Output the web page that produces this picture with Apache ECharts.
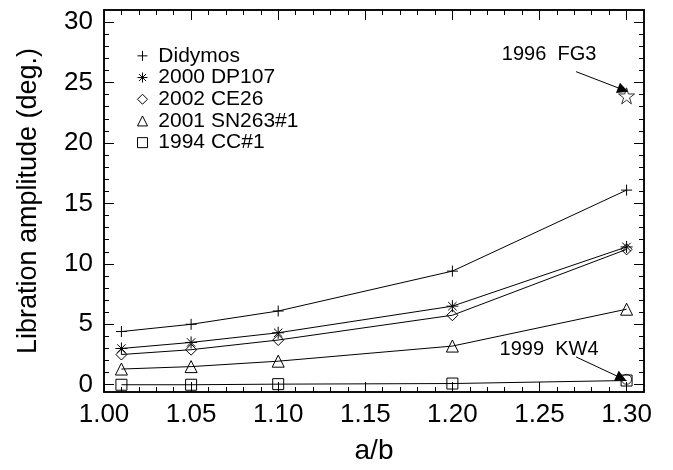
<!DOCTYPE html>
<html>
<head>
    <meta charset="utf-8">
    <title>Libration amplitude</title>
    <script src="https://cdn.jsdelivr.net/npm/echarts@6/dist/echarts.min.js"></script>
</head>
<body style="margin:0;background:#fff">
<div id="main" style="width:673px;height:470px;"></div>
<script type="text/javascript">
    // data
    var ratios = [1.01, 1.05, 1.10, 1.20, 1.30];
    var didymos = [4.4, 5.0, 6.1, 9.4, 16.1];
    var dp107 = [3.0, 3.5, 4.3, 6.5, 11.4];
    var ce26 = [2.5, 2.9, 3.7, 5.75, 11.2];
    var sn263 = [1.3, 1.5, 1.95, 3.2, 6.25];
    var cc1 = [0.0, 0.0, 0.05, 0.1, 0.35];
    var fg3 = [1.30, 23.9];
    var kw4 = [1.30, 0.45];

    // annotations (data units)
    var fg3Label = [1.2555, 27.3];
    var kw4Label = [1.2555, 2.95];
    var fg3Arrow = [[1.271, 25.9], [1.298, 24.4]];
    var kw4Arrow = [[1.271, 2.3], [1.297, 0.55]];

    // tick values
    var xMajor = [1.00, 1.05, 1.10, 1.15, 1.20, 1.25, 1.30];
    var xMinor = [];
    for (var i = 1; i <= 30; i++) xMinor.push(+(1 + i * 0.01).toFixed(2));
    var yMajor = [0, 5, 10, 15, 20, 25, 30];
    var yMinor = [];
    for (var j = 0; j <= 30; j++) yMinor.push(j);

    var FONT = 'Liberation Sans';
    var plusPath = 'path://M0,5L10,5M5,0L5,10';
    var starPath = 'path://M0,5L10,5M5,0L5,10M1.5,1.5L8.5,8.5M8.5,1.5L1.5,8.5';
    var star5 = 'path://M50,0L61,35L98,35L68,57L79,91L50,70L21,91L32,57L2,35L39,35Z';

    var myChart = echarts.init(document.getElementById('main'));

    function zip(ys) {
        return ys.map(function (v, k) { return [ratios[k], v]; });
    }

    var hollow = { color: 'none', borderColor: '#000', borderWidth: 1 };

    function seriesOf(name, ys, symbol, size) {
        return {
            name: name,
            type: 'line',
            data: zip(ys),
            symbol: symbol,
            symbolSize: size,
            showAllSymbol: true,
            lineStyle: { color: '#000', width: 1 },
            itemStyle: hollow,
            emphasis: { disabled: true },
            z: 3
        };
    }

    function xAx(pos, values, len, labels) {
        return {
            type: 'value', position: pos, min: 1.0, max: 1.31,
            axisLine: { show: true, onZero: false, lineStyle: { color: '#000', width: 1.5 } },
            axisTick: { show: true, inside: true, length: len, customValues: values, lineStyle: { color: '#000', width: 1 } },
            axisLabel: labels ? {
                show: true, customValues: xMajor, margin: 10,
                fontFamily: FONT, fontSize: 26, color: '#000',
                formatter: function (v) { return v.toFixed(2); }
            } : { show: false },
            splitLine: { show: false },
            name: labels ? 'a/b' : '',
            nameLocation: 'middle', nameGap: 45,
            nameTextStyle: { fontFamily: FONT, fontSize: 28, color: '#000' }
        };
    }

    function yAx(pos, values, len, labels) {
        return {
            type: 'value', position: pos, min: -0.6, max: 31,
            axisLine: { show: true, onZero: false, lineStyle: { color: '#000', width: 1.5 } },
            axisTick: { show: true, inside: true, length: len, customValues: values, lineStyle: { color: '#000', width: 1 } },
            axisLabel: labels ? {
                show: true, customValues: yMajor, margin: 11,
                fontFamily: FONT, fontSize: 26, color: '#000'
            } : { show: false },
            splitLine: { show: false },
            name: labels ? 'Libration amplitude (deg.)' : '',
            nameLocation: 'middle', nameGap: 62, nameRotate: 90,
            nameTextStyle: { fontFamily: FONT, fontSize: 27, color: '#000' }
        };
    }

    function arrow(seg) {
        return { coords: seg };
    }

    function note(pos, text) {
        return {
            coord: pos, symbol: 'circle', symbolSize: 0,
            label: { show: true, position: 'inside', fontFamily: FONT, fontSize: 20, color: '#000', formatter: text }
        };
    }

    var legendNames = ['Didymos', '2000 DP107', '2002 CE26', '2001 SN263#1', '1994 CC#1'];

    option = {
        backgroundColor: '#fff',
        animation: false,
        grid: { left: 104, right: 29, top: 10, bottom: 77 },
        legend: {
            orient: 'vertical', left: 130, top: 40,
            itemWidth: 10, itemHeight: 10, itemGap: 0,
            formatter: ' {name}',
            textStyle: { fontFamily: FONT, fontSize: 21, lineHeight: 21.7, color: '#000' },
            itemStyle: { color: 'none', borderColor: '#000', borderWidth: 1 },
            selectedMode: false,
            data: [
                { name: legendNames[0], icon: plusPath },
                { name: legendNames[1], icon: starPath },
                { name: legendNames[2], icon: 'diamond' },
                { name: legendNames[3], icon: 'triangle' },
                { name: legendNames[4], icon: 'rect' }
            ]
        },
        xAxis: [
            xAx('bottom', xMajor, 10, true),
            xAx('bottom', xMinor, 5, false),
            xAx('top', xMajor, 10, false),
            xAx('top', xMinor, 5, false)
        ],
        yAxis: [
            yAx('left', yMajor, 10, true),
            yAx('left', yMinor, 5, false),
            yAx('right', yMajor, 10, false),
            yAx('right', yMinor, 5, false)
        ],
        series: [
            seriesOf(legendNames[0], didymos, plusPath, 11),
            seriesOf(legendNames[1], dp107, starPath, 12),
            seriesOf(legendNames[2], ce26, 'diamond', 11),
            seriesOf(legendNames[3], sn263, 'triangle', 12),
            seriesOf(legendNames[4], cc1, 'rect', 11),
            {
                name: '1996 FG3', type: 'scatter', data: [fg3],
                symbol: star5, symbolSize: 16, itemStyle: hollow, z: 4,
                emphasis: { disabled: true }
            },
            {
                name: '1999 KW4', type: 'scatter', data: [kw4],
                symbol: 'circle', symbolSize: 10, itemStyle: hollow, z: 4,
                emphasis: { disabled: true }
            },
            {
                name: 'arrows', type: 'lines', coordinateSystem: 'cartesian2d',
                symbol: ['none', 'triangle'], symbolSize: 11,
                lineStyle: { color: '#000', width: 1, opacity: 1 },
                silent: true, z: 5,
                data: [arrow(fg3Arrow), arrow(kw4Arrow)]
            },
            {
                name: 'notes', type: 'scatter', data: [],
                silent: true,
                markPoint: {
                    silent: true,
                    data: [note(fg3Label, '1996  FG3'), note(kw4Label, '1999  KW4')]
                }
            }
        ]
    };

    myChart.setOption(option);
</script>
</body>
</html>
